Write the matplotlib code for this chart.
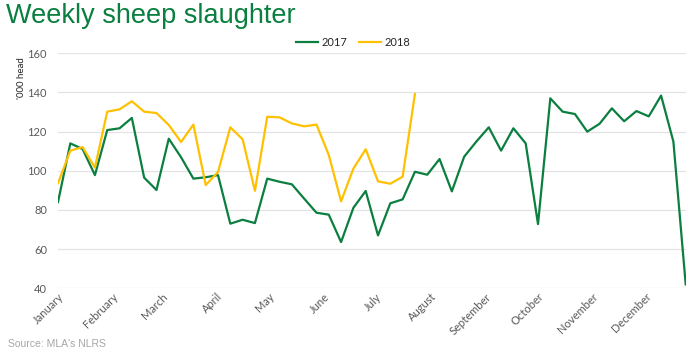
import matplotlib
matplotlib.use("Agg")
import matplotlib.pyplot as plt
import numpy as np

# Data
sheep_2017 = [84, 114, 111.1, 97.8, 120.8, 121.7, 127, 96.5, 90.2, 116.4,
              106.9, 96, 96.7, 97.8, 73, 75, 73.3, 96, 94.4, 93.1,
              85.8, 78.6, 77.6, 63.6, 81.1, 89.7, 67, 83.4, 85.4, 99.5,
              98, 106, 89.5, 107.2, 115, 122.2, 110.3, 121.7, 114, 72.8,
              137, 130.2, 129, 120, 124, 131.9, 125.3, 130.5, 127.8, 138.4,
              114.9, 42]
sheep_2018 = [93.6, 110.3, 112.1, 101.6, 130.2, 131.4, 135.5, 130.2, 129.5, 123.4,
              114.7, 123.6, 92.7, 99.4, 122.2, 116.1, 89.8, 127.6, 127.3, 124.2,
              122.7, 123.6, 108.1, 84.4, 101.1, 111, 94.6, 93.4, 97, 139.2]
months = ["January", "February", "March", "April", "May", "June", "July",
          "August", "September", "October", "November", "December"]
month_start_day = [0, 31, 59, 90, 120, 151, 181, 212, 243, 273, 304, 334]
y_ticks = [40, 60, 80, 100, 120, 140, 160]

green = "#0A7F3F"
yellow = "#FFC000"
gray = "#595959"

fig = plt.figure(figsize=(7, 3.55), dpi=100)
ax = fig.add_axes([58/700, 1-288.3/355, (685.7-58)/700, (288.3-53.3)/355])

ax.plot(np.arange(len(sheep_2017)), sheep_2017, color=green, lw=1.6, label="2017")
ax.plot(np.arange(len(sheep_2018)), sheep_2018, color=yellow, lw=1.6, label="2018")

ax.set_xlim(0, len(sheep_2017) - 1)
ax.set_ylim(40, 160)
ax.set_yticks(y_ticks)
ax.set_yticklabels([str(v) for v in y_ticks], fontfamily="Lato", fontsize=8, color=gray)
ax.yaxis.grid(True, color="#e3e3e3", lw=0.9)
ax.set_axisbelow(True)
ax.tick_params(axis="y", length=0, pad=8)
ax.tick_params(axis="x", length=0, pad=2)
for s in ax.spines.values():
    s.set_visible(False)

ax.set_xticks([d / 7 for d in month_start_day])
ax.set_xticklabels(months, rotation=45, ha="right", rotation_mode="anchor",
                   fontfamily="Lato", fontsize=8, color=gray)

leg = ax.legend(loc="lower center", bbox_to_anchor=(0.47, 1.0), ncol=2, frameon=False,
                prop={"family": "Lato", "size": 8}, handlelength=2.0, columnspacing=1.0,
                handletextpad=0.3, borderaxespad=0.1)
for t in leg.get_texts():
    t.set_color("#262626")

fig.text(6/700, 1-16/355, "Weekly sheep slaughter", fontfamily="Liberation Sans",
         fontsize=19.5, color=green, va="center", ha="left")
fig.text(21/700, 1-78/355, "'000 head", rotation=90, fontfamily="Lato", fontsize=7,
         color="#262626", va="center", ha="center")
fig.text(8/700, 1-344/355, "Source: MLA's NLRS", fontfamily="Liberation Sans",
         fontsize=7.5, color="#a6a6a6", va="center", ha="left")

fig.savefig("out.png", dpi=100)
